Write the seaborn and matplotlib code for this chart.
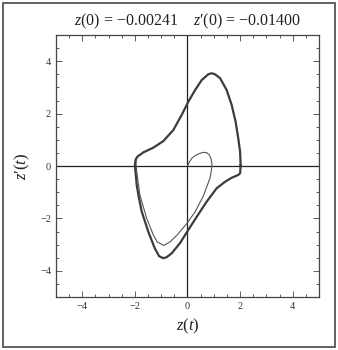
import matplotlib
matplotlib.use("Agg")
import matplotlib.pyplot as plt
import seaborn as sns
import pandas as pd
from matplotlib.patches import Rectangle
from matplotlib.ticker import MultipleLocator

# limit cycle (clockwise, starting at the right crossing)
cycle_z = [2.02, 2.01, 2.00, 1.93, 1.68, 1.43, 1.11, 0.73, 0.35, 0.03, -0.29, -0.60,
           -0.79, -0.92, -1.08, -1.24, -1.49, -1.74, -1.85, -1.93, -1.97, -2.00, -1.97,
           -1.90, -1.80, -1.68, -1.30, -0.92, -0.54, -0.22, 0.03, 0.29, 0.54, 0.79,
           0.92, 1.05, 1.24, 1.49, 1.68, 1.83, 1.93, 2.00, 2.02]
cycle_dz = [0.04, -0.15, -0.28, -0.34, -0.45, -0.60, -0.85, -1.36, -1.94, -2.44, -2.95, -3.33,
            -3.48, -3.52, -3.44, -3.15, -2.51, -1.74, -1.20, -0.73, -0.30, 0.04, 0.25,
            0.36, 0.43, 0.52, 0.70, 0.95, 1.37, 1.95, 2.45, 2.90, 3.28, 3.50,
            3.54, 3.50, 3.35, 2.90, 2.33, 1.69, 1.06, 0.55, 0.04]

# transient from the initial point onto the cycle
trans_z = [0.0, 0.08, 0.16, 0.28, 0.41, 0.60, 0.73, 0.83, 0.89, 0.93, 0.92, 0.86, 0.60,
           0.29, -0.03, -0.41, -0.67, -0.90, -1.15, -1.30, -1.55, -1.81, -1.93, -1.96, -1.95]
trans_dz = [0.0, 0.17, 0.29, 0.39, 0.46, 0.52, 0.51, 0.42, 0.29, 0.10, -0.10, -0.45, -1.15,
            -1.75, -2.20, -2.65, -2.90, -3.03, -2.90, -2.63, -2.00, -1.11, -0.22, 0.10, 0.28]

title = "$z$(0) = −0.00241    $z$′(0) = −0.01400"

sns.set_style("ticks")
plt.rcParams["font.family"] = ["Liberation Serif", "DejaVu Serif"]
plt.rcParams["mathtext.fontset"] = "custom"
plt.rcParams["mathtext.rm"] = "Liberation Serif"
plt.rcParams["mathtext.it"] = "Liberation Serif:italic"

fig = plt.figure(figsize=(3.38, 3.5), dpi=100)
ax = fig.add_axes([0.1657, 0.1514, 0.778, 0.7486])

cyc = pd.DataFrame({"z": cycle_z, "dz": cycle_dz})
tr = pd.DataFrame({"z": trans_z, "dz": trans_dz})

ax.axhline(0, color="#222222", lw=0.9, zorder=1)
ax.axvline(0, color="#222222", lw=0.9, zorder=1)
sns.lineplot(data=tr, x="z", y="dz", sort=False, estimator=None, color="#555555", lw=0.8, ax=ax)
sns.lineplot(data=cyc, x="z", y="dz", sort=False, estimator=None, color="#3c3c3c", lw=1.6, ax=ax)

ax.set_xlim(-5, 5)
ax.set_ylim(-5, 5)
ax.xaxis.set_major_locator(MultipleLocator(2))
ax.yaxis.set_major_locator(MultipleLocator(2))
ax.xaxis.set_minor_locator(MultipleLocator(0.5))
ax.yaxis.set_minor_locator(MultipleLocator(0.5))
ax.tick_params(which="both", direction="in", top=True, right=True, colors="#444444",
               labelcolor="#333333", labelsize=7.5, width=0.6)
ax.tick_params(which="major", length=4)
ax.tick_params(which="minor", length=2.5)
for s in ax.spines.values():
    s.set_color("#444444")
    s.set_linewidth(0.9)

ax.set_xlabel("$z$($t$)", fontsize=12, labelpad=4, color="#222222")
ax.set_ylabel("$z$′($t$)", fontsize=12, labelpad=6, color="#222222")
ax.set_title(title, fontsize=11.5, pad=7, color="#222222")

fig.patches.append(Rectangle((0.009, 0.009), 0.982, 0.982, transform=fig.transFigure,
                             fill=False, edgecolor="#555555", lw=1.3))

fig.savefig("out.png", dpi=100)
